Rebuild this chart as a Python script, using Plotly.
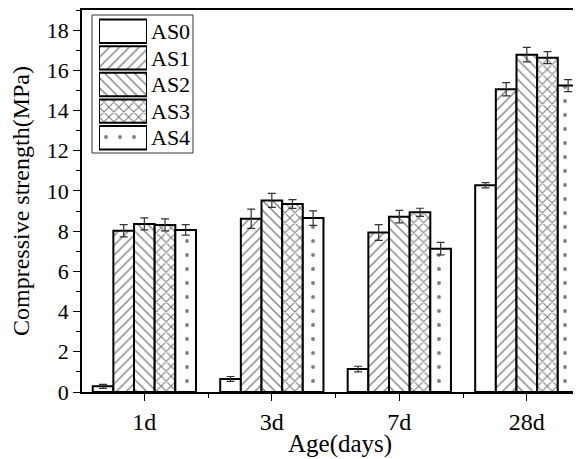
import plotly.graph_objects as go

categories = ["1d", "3d", "7d", "28d"]
series_names = ["AS0", "AS1", "AS2", "AS3", "AS4"]
as0 = [0.28, 0.65, 1.14, 10.28]
as1 = [8.02, 8.62, 7.93, 15.06]
as2 = [8.36, 9.53, 8.72, 16.78]
as3 = [8.31, 9.35, 8.94, 16.63]
as4 = [8.06, 8.65, 7.13, 15.24]
err0 = [0.10, 0.12, 0.14, 0.13]
err1 = [0.30, 0.48, 0.39, 0.33]
err2 = [0.30, 0.35, 0.31, 0.36]
err3 = [0.30, 0.22, 0.20, 0.30]
err4 = [0.26, 0.36, 0.31, 0.30]
y_ticks = [0, 2, 4, 6, 8, 10, 12, 14, 16, 18]

values = [as0, as1, as2, as3, as4]
errors = [err0, err1, err2, err3, err4]
patterns = ["", "/", "\\", "x", "."]
pat_size = [8, 7, 7, 7, 14]
pat_sol = [0.2, 0.2, 0.2, 0.3, 0.06]

FONT = "Liberation Serif"
xpos = list(range(len(categories)))

fig = go.Figure()
for name, v, e, p, s, so in zip(series_names, values, errors, patterns, pat_size, pat_sol):
    fig.add_trace(go.Bar(
        name=name, x=xpos, y=v,
        error_y=dict(type="data", array=e, color="#333333", thickness=1.2, width=4),
        marker=dict(color="white", line=dict(color="black", width=2),
                    pattern=dict(shape=p, fgcolor="black", bgcolor="white", size=s, solidity=so)),
        showlegend=False,
    ))

# legend drawn as an inset of swatches
fig.add_trace(go.Bar(
    x=[1] * len(series_names), y=series_names, orientation="h",
    xaxis="x2", yaxis="y2", width=0.88, showlegend=False, hoverinfo="skip",
    marker=dict(color="white", line=dict(color="black", width=2),
                pattern=dict(shape=patterns, fgcolor="black", bgcolor="white",
                             size=pat_size, solidity=pat_sol)),
))

# page body has an 8px margin; figure is placed at (8, 8)
OFF = 8
W, H = 581 - OFF, 459 - OFF
plot_l, plot_r, plot_t, plot_b = 82 - OFF, 581 - OFF, 10 - OFF, 392 - OFF
def px(x):
    return (x - OFF - plot_l) / (plot_r - plot_l)
def py(y):
    return (plot_b - (y - OFF)) / (plot_b - plot_t)

fig.update_layout(
    width=W, height=H,
    margin=dict(l=plot_l, r=W - plot_r, t=plot_t, b=H - plot_b, autoexpand=False),
    paper_bgcolor="white", plot_bgcolor="white",
    barmode="group", bargap=0.19, bargroupgap=0,
    font=dict(family=FONT, color="black", size=22),
    xaxis=dict(
        range=[-0.489, 3.425], tickmode="array", tickvals=xpos, ticktext=categories,
        showline=True, linecolor="black", linewidth=1.5, mirror=True,
        ticks="outside", ticklen=7, tickwidth=1.2, tickcolor="black",
        minor=dict(tickvals=[0.5, 1.5, 2.5], ticks="outside", ticklen=4, tickcolor="black", tickwidth=1.2),
        showgrid=False, zeroline=False, tickfont=dict(size=24),
    ),
    yaxis=dict(
        range=[0, 19], tickmode="array", tickvals=y_ticks,
        showline=True, linecolor="black", linewidth=1.5,
        ticks="outside", ticklen=7, tickwidth=1.2, tickcolor="black",
        minor=dict(dtick=1, ticks="outside", ticklen=4, tickcolor="black", tickwidth=1.2),
        showgrid=False, zeroline=False, tickfont=dict(size=22),
        title=dict(text="Compressive strength(MPa)", font=dict(size=24), standoff=10),
    ),
    xaxis2=dict(domain=[px(99), px(147)], anchor="y2", range=[0, 1], visible=False),
    yaxis2=dict(domain=[py(151), py(18)], anchor="x2", side="right", autorange="reversed",
                showline=False, ticks="", showgrid=False, zeroline=False,
                tickfont=dict(size=22), ticklabelstandoff=3),
    showlegend=False,
)
fig.add_shape(type="rect", xref="paper", yref="paper",
              x0=px(92), x1=px(193), y0=py(153), y1=py(15),
              line=dict(color="#333333", width=1), fillcolor="rgba(0,0,0,0)")
fig.add_annotation(text="Age(days)", xref="paper", yref="paper", x=px(340), y=py(444),
                   showarrow=False, font=dict(size=25), xanchor="center", yanchor="middle")

fig.write_html("out.html")
